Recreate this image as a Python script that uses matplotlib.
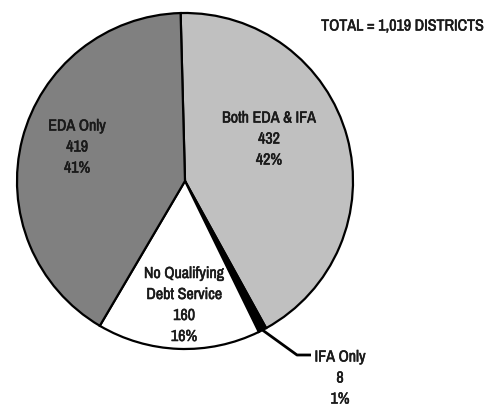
import numpy as np
import matplotlib
matplotlib.use("Agg")
import matplotlib.pyplot as plt
import matplotlib.patheffects as pe
from matplotlib import font_manager

# look for a narrow face, otherwise fall back to DejaVu
names = sorted({f.name for f in font_manager.fontManager.ttflist})
narrow = [n for n in names if "Condensed" in n or "Narrow" in n]
fam = narrow[0] if narrow else "DejaVu Sans"
plt.rcParams['font.family'] = [fam, 'DejaVu Sans']

# data, clockwise from the top
labels = ["Both EDA & IFA", "IFA Only", "No Qualifying\nDebt Service", "EDA Only"]
counts = [432, 8, 160, 419]
colors = ["#c0c0c0", "#000000", "#ffffff", "#808080"]
total_label = "TOTAL = 1,019 DISTRICTS"

total = sum(counts)
pcts = [round(100 * c / total) for c in counts]

W, H = 499, 410
fig = plt.figure(figsize=(W / 100, H / 100), dpi=100)
ax = fig.add_axes([0, 0, 1, 1])

cx, cy, r = 185, H - 182, 168
wedges, _ = ax.pie(counts, colors=colors, startangle=91.5, counterclock=False,
                   center=(cx, cy), radius=r,
                   wedgeprops=dict(edgecolor="black", linewidth=1.6))
ax.set_xlim(0, W)
ax.set_ylim(0, H)
ax.set_aspect("equal")
ax.axis("off")

fs = 11.5 if narrow else 10
# thicken the regular-only narrow face a little
heavy = [pe.withStroke(linewidth=0.4, foreground="#1a1a1a")]
txt = dict(fontsize=fs, linespacing=1.5, color="#1a1a1a", path_effects=heavy)
# label positions in pixels (x, y from top)
pos = [(269, 140), None, (184, 306), (77, 148)]
for i, p in enumerate(pos):
    if p is None:
        continue
    ax.text(p[0], H - p[1], f"{labels[i]}\n{counts[i]}\n{pcts[i]}%", ha="center", va="center", **txt)

# IFA Only callout
w = wedges[1]
mid = np.deg2rad((w.theta1 + w.theta2) / 2)
px, py = cx + r * np.cos(mid), cy + r * np.sin(mid)
ax.plot([px, 297, 311], [py, H - 356, H - 356], color="black", lw=2, solid_capstyle="butt")
ax.text(340, H - 379, f"{labels[1]}\n{counts[1]}\n{pcts[1]}%", ha="center", va="center", **txt)

ax.text(483, H - 27, total_label, ha="right", va="center", **txt)

fig.savefig("out.png", dpi=100)
